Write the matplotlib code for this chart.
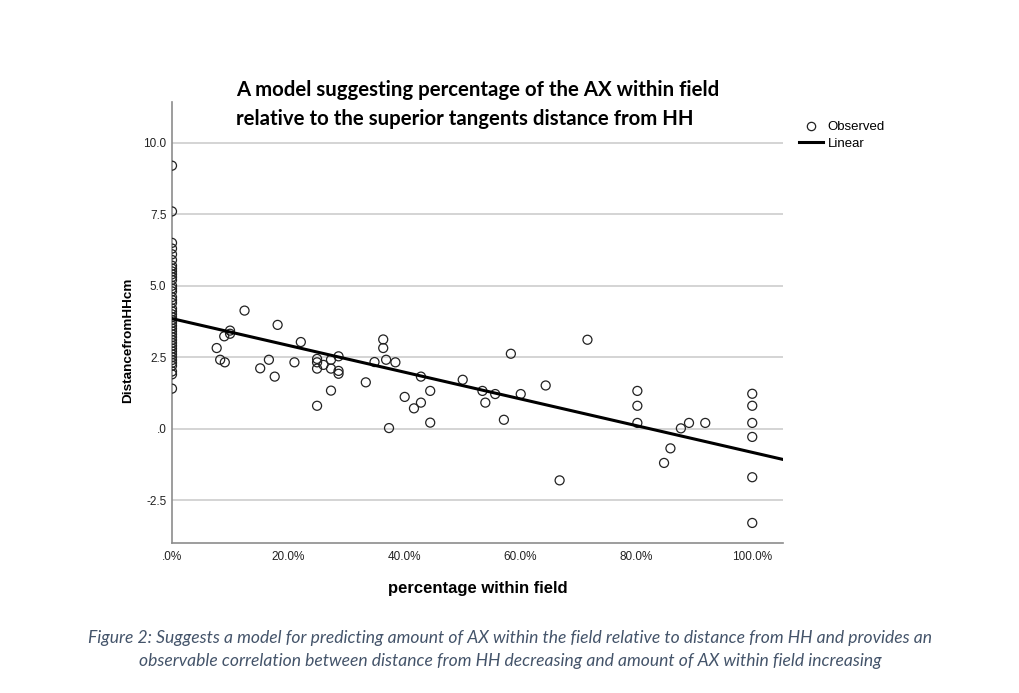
import matplotlib.pyplot as plt
from matplotlib.lines import Line2D
import numpy as np

# percentage within field (%) and distance from HH (cm)
zero_col_y = [9.2, 7.6, 6.5, 6.3, 6.1, 5.9, 5.7, 5.6, 5.5, 5.4, 5.3, 5.2, 5.0,
              4.9, 4.8, 4.6, 4.5, 4.4, 4.2, 4.1, 4.0, 3.9, 3.8, 3.7, 3.6, 3.5,
              3.4, 3.3, 3.2, 3.1, 3.0, 2.9, 2.8, 2.7, 2.6, 2.5, 2.4, 2.3, 2.2,
              2.0, 1.9, 1.4]

pct = [12.5, 7.7, 8.3, 9.1, 9.0, 10.0, 10.0, 18.2, 16.7, 15.2, 17.7, 22.2,
       21.1, 25.0, 25.0, 25.0, 25.0, 26.1, 27.4, 27.4, 27.4, 28.7, 28.7, 28.7,
       33.4, 34.9, 36.4, 36.4, 36.9, 37.4, 38.5, 40.1, 41.7, 42.9, 42.9, 44.5,
       44.5, 50.1, 53.5, 54.0, 55.7, 57.2, 58.4, 60.1, 64.4, 66.8, 71.6,
       80.2, 80.2, 80.2, 84.8, 85.9, 87.7, 89.1, 91.9,
       100, 100, 100, 100, 100, 100]
dist = [4.13, 2.82, 2.41, 2.32, 3.23, 3.43, 3.32, 3.63, 2.41, 2.11, 1.82, 3.03,
        2.32, 2.44, 2.32, 2.10, 0.80, 2.23, 2.41, 2.10, 1.33, 2.53, 2.02, 1.92,
        1.62, 2.33, 3.12, 2.82, 2.41, 0.02, 2.32, 1.11, 0.71, 0.91, 1.82, 1.32,
        0.21, 1.71, 1.32, 0.91, 1.21, 0.31, 2.62, 1.21, 1.51, -1.81, 3.11,
        1.32, 0.80, 0.20, -1.20, -0.69, 0.01, 0.20, 0.20,
        1.22, 0.80, 0.20, -0.29, -1.70, -3.30]

# linear fit as shown in the chart
intercept = 3.85
slope = -0.0468

yticks = [-2.5, 0, 2.5, 5.0, 7.5, 10.0]
ytick_labels = ['-2.5', '.0', '2.5', '5.0', '7.5', '10.0']
xticks = [0, 20, 40, 60, 80, 100]
xtick_labels = ['.0%', '20.0%', '40.0%', '60.0%', '80.0%', '100.0%']

x_all = [0] * len(zero_col_y) + pct
y_all = zero_col_y + dist

fig = plt.figure(figsize=(10.19, 6.93), dpi=100)
ax = fig.add_axes([0.1688, 0.2165, 0.5996, 0.6364])

xmin, xmax = 0, 105.3
ax.set_xlim(xmin, xmax)
ax.set_ylim(-4.0, 11.43)

for yt in yticks:
    ax.axhline(yt, color='#d4d4d4', lw=1.4, zorder=1)

ax.scatter(x_all, y_all, s=42, facecolors='none', edgecolors='#222222',
           linewidths=0.9, zorder=3)

xl = np.array([xmin, xmax])
ax.plot(xl, intercept + slope * xl, color='black', lw=2.2, zorder=4)

ax.set_yticks(yticks)
ax.set_yticklabels(ytick_labels)
ax.set_xticks(xticks)
ax.set_xticklabels(xtick_labels)
ax.tick_params(length=0, labelsize=8.5, colors='#222222')
ax.tick_params(axis='x', pad=6)
ax.tick_params(axis='y', pad=4)
for lab in ax.get_xticklabels() + ax.get_yticklabels():
    lab.set_fontfamily('Liberation Sans')

for side in ['top', 'right']:
    ax.spines[side].set_visible(False)
for side in ['left', 'bottom']:
    ax.spines[side].set_color('#8c8c8c')
    ax.spines[side].set_linewidth(1.2)

fig.text(128 / 1019, 1 - 340 / 693, 'DistancefromHHcm', rotation=90,
         ha='center', va='center', fontsize=9.7, fontweight='bold',
         family='Liberation Sans')
fig.text(478 / 1019, 1 - 588 / 693, 'percentage within field',
         ha='center', va='center', fontsize=12, fontweight='bold',
         family='Liberation Sans')

fig.text(236 / 1019, 1 - 90 / 693,
         'A model suggesting percentage of the AX within field',
         ha='left', va='center', fontsize=14.7, fontweight='bold', family='Lato')
fig.text(236 / 1019, 1 - 119 / 693,
         'relative to the superior tangents distance from HH',
         ha='left', va='center', fontsize=14.7, fontweight='bold', family='Lato')

handles = [Line2D([], [], marker='o', ls='none', markerfacecolor='none',
                  markeredgecolor='#222222', markersize=6, markeredgewidth=0.9),
           Line2D([], [], color='black', lw=2.2)]
fig.legend(handles, ['Observed', 'Linear'], loc='upper left',
           bbox_to_anchor=(799 / 1019, 1 - 121 / 693), frameon=False,
           handlelength=1.8, handletextpad=0.38, labelspacing=0.35,
           borderaxespad=0, borderpad=0,
           prop={'family': 'Liberation Sans', 'size': 9.5})

cap_color = '#44546a'
fig.text(510 / 1019, 1 - 638 / 693,
         'Figure 2: Suggests a model for predicting amount of AX within the field '
         'relative to distance from HH and provides an',
         ha='center', va='center', fontsize=12.6, style='italic', color=cap_color,
         family='Lato')
fig.text(510 / 1019, 1 - 661 / 693,
         'observable correlation between distance from HH decreasing and amount '
         'of AX within field increasing',
         ha='center', va='center', fontsize=12.6, style='italic', color=cap_color,
         family='Lato')

fig.savefig('out.png', dpi=100)
